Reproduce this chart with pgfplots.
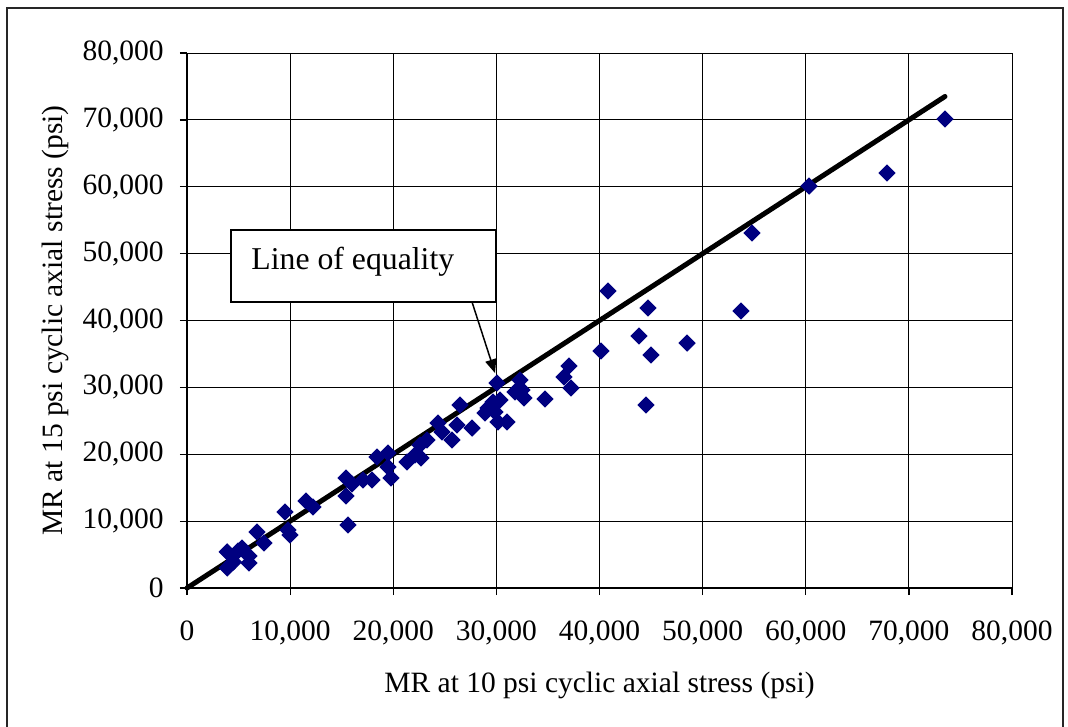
\documentclass[border=0pt]{standalone}
\usepackage{pgfplots}
\pgfplotsset{compat=1.18}
\usepackage{pgfplotstable}
\usepackage{fontspec}
\setmainfont{Liberation Serif}
\usetikzlibrary{arrows.meta}
\definecolor{navy}{HTML}{000080}

\pgfplotstableread{
x y
3900 5400
3900 3000
4500 3900
4950 5530
5330 5980
6010 4790
6010 3740
6790 8370
7470 6730
9500 11360
9790 8670
9990 7930
11540 13010
12220 12110
15420 16450
15420 13760
15610 9420
16000 15550
17070 16150
17940 16150
18430 19590
19490 20190
19490 18090
19780 16450
21330 18840
22110 19890
22690 19440
23270 22130
22590 21380
24340 24670
24730 23330
25700 22130
26180 24370
26470 27360
27640 23920
28900 26170
29190 26920
29670 27810
30060 30650
30350 28110
30160 24820
31030 24820
29870 26320
31810 29310
32290 31100
32480 29610
32680 28410
34710 28260
36560 31550
37040 33200
37240 29910
40150 35440
40820 44410
43830 37680
44700 41870
44990 34840
48490 36630
44510 27360
53720 41420
54790 53080
60320 60110
67880 62050
73500 70130
}\datatable

\begin{document}
\begin{tikzpicture}
\useasboundingbox (-74.8pt,-55.2pt) rectangle (352.4pt,235.2pt);
\draw[line width=0.6pt, black!85] (-72pt,-60pt) -- (-72pt,232pt) -- (350.4pt,232pt) -- (350.4pt,-60pt);
\begin{axis}[
  at={(0pt,0pt)}, anchor=south west,
  scale only axis, width=330pt, height=214pt,
  xmin=0, xmax=80000, ymin=0, ymax=80000,
  xtick={0,10000,...,80000}, ytick={0,10000,...,80000},
  scaled ticks=false,
  /pgf/number format/1000 sep={,},
  /pgf/number format/assume math mode=true,
  axis x line*=bottom, axis y line*=left,
  axis line style={line width=0.8pt, black},
  tick align=outside, major tick length=2.8pt,
  tick style={black, line width=0.5pt},
  grid=major, grid style={black, line width=0.4pt},
  tick label style={font=\fontsize{11.8}{14}\selectfont},
  label style={font=\fontsize{11.8}{14}\selectfont},
  xticklabel style={yshift=-7pt},
  yticklabel style={xshift=-3pt},
  xlabel={MR at 10 psi cyclic axial stress (psi)},
  ylabel={MR at 15 psi cyclic axial stress (psi)},
  xlabel style={at={(axis description cs:0.5,-0.1813)}, anchor=center},
  ylabel style={at={(axis description cs:-0.1600,0.5)}, anchor=center},
  clip=false,
]
\addplot[only marks, mark=square*, mark size=2.25pt, color=navy,
  mark options={rotate=45, fill=navy, draw=navy}] table {\datatable};
\addplot[black, line width=2pt, line cap=round] coordinates {(0,0) (73500,73500)};
\draw[line width=1pt, fill=white] (axis cs:4270,53520) rectangle (axis cs:29960,42760);
\node[anchor=west, inner sep=0pt, font=\fontsize{12.7}{14}\selectfont] at (axis cs:6200,48740) {Line of equality};
\draw[line width=0.6pt, -{Triangle[length=5.5pt,width=4.5pt]}] (axis cs:27640,42760) -- (axis cs:29870,32140);
\end{axis}
\end{tikzpicture}
\end{document}
